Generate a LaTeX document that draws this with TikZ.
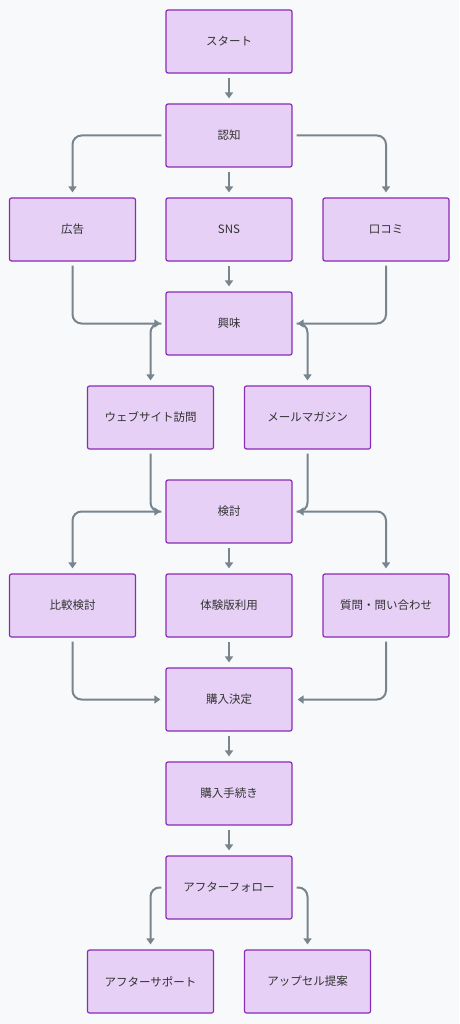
\documentclass[tikz,border=0pt]{standalone}
\usepackage{fontspec}
\setmainfont{Noto Sans CJK JP}
\usetikzlibrary{arrows.meta}
\definecolor{bgcol}{HTML}{F8F9FA}
\definecolor{boxfill}{HTML}{E6D0F5}
\definecolor{boxline}{HTML}{8A2BB5}
\definecolor{edgecol}{HTML}{78858F}
\definecolor{txtcol}{HTML}{333333}

\tikzset{
 box/.style={draw=boxline, fill=boxfill, line width=1.2pt, rounded corners=2pt,
   minimum width=126pt, minimum height=63pt, text=txtcol,
   font=\fontsize{11.5}{13.5}\selectfont},
 link/.style={draw=edgecol, line width=2pt, rounded corners=9pt,
   -{Triangle[length=6pt,width=8pt]}, shorten <=4pt, shorten >=5pt},
}

\begin{document}
\begin{tikzpicture} [x=1pt, y=-1pt]
\fill[bgcol] (0,0) rectangle (459,1024);
% boxes
\node[box] (start) at (229,41.5) {スタート};
\node[box] (aware) at (229,135.5) {認知};
\node[box] (ad) at (72.5,229.5) {広告};
\node[box] (sns) at (229,229.5) {SNS};
\node[box] (wom) at (386,229.5) {口コミ};
\node[box] (interest) at (229,323.5) {興味};
\node[box] (web) at (150.5,417.5) {ウェブサイト訪問};
\node[box] (mail) at (307.5,417.5) {メールマガジン};
\node[box] (consider) at (229,511.5) {検討};
\node[box] (compare) at (72.5,605.5) {比較検討};
\node[box] (trial) at (229,605.5) {体験版利用};
\node[box] (ask) at (386,605.5) {質問・問い合わせ};
\node[box] (decide) at (229,699.5) {購入決定};
\node[box] (buy) at (229,793.5) {購入手続き};
\node[box] (follow) at (229,887.5) {アフターフォロー};
\node[box] (support) at (150.5,981.5) {アフターサポート};
\node[box] (upsell) at (307.5,981.5) {アップセル提案};
% straight links
\foreach \a/\b in {start/aware, aware/sns, sns/interest, consider/trial,
  trial/decide, decide/buy, buy/follow} {
 \draw[link] (\a) -- (\b);
}
% branching links
\draw[link] (aware.west) -| (ad.north);
\draw[link] (aware.east) -| (wom.north);
\draw[link] (ad.south) |- (interest.west);
\draw[link] (wom.south) |- (interest.east);
\draw[link] (interest.west) -| (web.north);
\draw[link] (interest.east) -| (mail.north);
\draw[link] (web.south) |- (consider.west);
\draw[link] (mail.south) |- (consider.east);
\draw[link] (consider.west) -| (compare.north);
\draw[link] (consider.east) -| (ask.north);
\draw[link] (compare.south) |- (decide.west);
\draw[link] (ask.south) |- (decide.east);
\draw[link] (follow.west) -| (support.north);
\draw[link] (follow.east) -| (upsell.north);
\end{tikzpicture}
\end{document}
